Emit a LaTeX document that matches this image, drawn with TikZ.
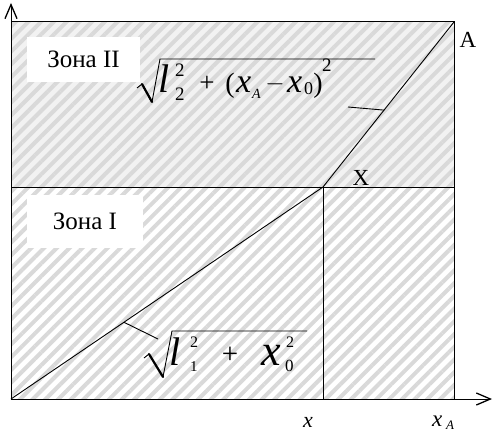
\documentclass[tikz,border=0pt]{standalone}
\usepackage{fontspec}
\setmainfont{Liberation Serif}
\usetikzlibrary{patterns.meta,arrows.meta}
\newcommand{\fs}[1]{\fontsize{#1}{#1}\selectfont}
\begin{document}
\begin{tikzpicture}[x=1pt,y=1pt,
  axis/.style={line width=1pt,-{Straight Barb[length=14pt,width=12pt,line width=1.3pt]}},
  frame/.style={line width=1pt},
  thin/.style={line width=0.9pt},
  zonelabel/.style={fill=white,inner sep=0pt,minimum height=45pt,font=\fs{25}},
  g/.style={inner sep=0pt,anchor=base west},
  gc/.style={inner sep=0pt,anchor=center},
  radthick/.style={line width=2.2pt,line cap=round},
  radthin/.style={line width=0.9pt},
  lbl/.style={inner sep=0pt,font=\fs{23}},
  hatch/.style={pattern={Lines[angle=45,distance=9pt,line width=4pt]},pattern color=gray!30}]
\useasboundingbox (0,0) rectangle (493,432);
% zones
\fill[gray!10] (11,245) rectangle (454,410);
\fill[hatch] (11,245) rectangle (454,410);
\fill[hatch] (11,33) rectangle (454,245);
% key points
\coordinate (O) at (11,33);
\coordinate (X) at (323,245);
\coordinate (A) at (454,410);
\coordinate (Xb) at (323,33);
\coordinate (Ml) at (11,245);
\coordinate (Mr) at (454,245);
\coordinate (TL) at (11,410);
\coordinate (BR) at (454,33);
\coordinate (Yend) at (11,429);
\coordinate (Xend) at (492,33);
% frame
\draw[frame] (TL) -- (A) -- (BR);
\draw[frame] (Ml) -- (Mr);
\draw[thin] (X) -- (Xb);
\draw[axis] (O) -- (Yend);
\draw[axis] (O) -- (Xend);
% diagonal
\draw[thin] (O) -- (X) -- (A);
\path (X) -- (A) coordinate[pos=0.466] (pu);
\path (O) -- (X) coordinate[pos=0.362] (pl);
% zone labels
\node[zonelabel,minimum width=113pt] (z2) at (83.5,372.5) {Зона II};
\node[zonelabel,minimum width=116pt,minimum height=53pt] (z1) at (85,210.5) {Зона I};
% upper formula: sqrt(l2^2 + (xA - x0)^2)
\coordinate (ua) at (137,344);
\coordinate (ub) at (142,348);
\coordinate (uc) at (152,330);
\coordinate (ud) at (160,373);
\coordinate (ue) at (375,373);
\draw[radthin,line join=round] (ua) -- (ub);
\draw[radthick] (ub) -- (uc);
\draw[radthin] (uc) -- (ud) -- (ue);
\node[g,font=\fs{40}\itshape] (ul) at (158,339) {l};
\node[g,font=\fs{19}] (uls) at (175,355) {2};
\node[g,font=\fs{19}] (uli) at (175,331) {2};
\node[gc,font=\fs{27}] (up) at (207,348) {+};
\node[gc,font=\fs{28}] (uo) at (230,346) {(};
\node[g,font=\fs{34}\itshape] (ux1) at (236,339) {x};
\node[g,font=\fs{14}\itshape] (uxa) at (252,333) {A};
\node[gc,font=\fs{28}] (um) at (275,348) {$-$};
\node[g,font=\fs{34}\itshape] (ux2) at (287,339) {x};
\node[g,font=\fs{18}] (ux0) at (304,337) {0};
\node[gc,font=\fs{28}] (uc2) at (318,346) {)};
\node[g,font=\fs{19}] (us2) at (322,360) {2};
% lower formula: sqrt(l1^2 + x0^2)
\coordinate (la1) at (144,74);
\coordinate (lb1) at (149,78);
\coordinate (lc1) at (163,55);
\coordinate (ld1) at (172,101);
\coordinate (le1) at (307,101);
\draw[radthin,line join=round] (la1) -- (lb1);
\draw[radthick] (lb1) -- (lc1);
\draw[radthin] (lc1) -- (ld1) -- (le1);
\node[g,font=\fs{40}\itshape] (ll1) at (169,67) {l};
\node[g,font=\fs{16}] (lls) at (190,85) {2};
\node[g,font=\fs{15}] (lli) at (190,61) {1};
\node[gc,font=\fs{29}] (lp) at (230,77) {+};
\node[g,font=\fs{44}\itshape] (lx) at (261,67) {x};
\node[g,font=\fs{17}] (lx0) at (285,61) {0};
\node[g,font=\fs{16}] (lxs) at (286,85) {2};
% leader lines
\coordinate (lu) at (348,325);
\coordinate (ll) at (158,93);
\draw[thin] (lu) -- (pu);
\draw[thin] (ll) -- (pl);
% point labels
\node[lbl] (la) at (468,392) {A};
\node[lbl] (lxp) at (361,254) {X};
\node[lbl,font=\fs{22}\itshape] (ax) at (308,10) {x};
\node[lbl,font=\fs{23}\itshape,anchor=base west] (axa) at (432,6) {x};
\node[lbl,font=\fs{13}\itshape,anchor=base west] (axas) at (446,2.5) {A};
\end{tikzpicture}
\end{document}
